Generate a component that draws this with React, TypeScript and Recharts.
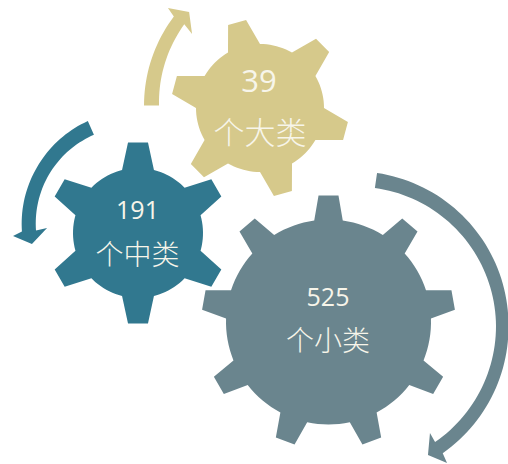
import { PolarAngleAxis, PolarRadiusAxis, Radar, RadarChart } from "recharts";

const WIDTH = 508;
const HEIGHT = 464;
const RADIUS_SCALE = 200; // radii below are in px because the axis spans 0..200

const GOLD = "#D6C98B";
const TEAL = "#31788F";
const SLATE = "#6A858E";

const CATEGORY_COUNTS = ["39", "191", "525"];
const CATEGORY_NAMES = ["个大类", "个中类", "个小类"];

// tooth centres, clockwise from 12 o'clock
const GOLD_TEETH = [45, 105, 165, 225, 285, 345];
const TEAL_TEETH = [0, 60, 120, 180, 240, 300];
const SLATE_TEETH = [0, 40, 80, 120, 160, 200, 240, 280, 320];

// [angle, outer radius, inner radius] along each arrow shaft
const GOLD_SHAFT = [[269.4, 148, 133], [288, 147.5, 133.5], [306.5, 147, 134]];
const TEAL_SHAFT = [[336.1, 111.5, 96.5], [300, 111, 97], [265.6, 111.4, 97.3]];
const SLATE_SHAFT = [[8.2, 154.6, 139.4], [90, 153.5, 141], [145.4, 154.5, 141]];

// [angle, radius]: outer barb, tip, inner barb
const GOLD_HEAD = [[307.7, 156.8], [311.8, 138], [305, 122]];
const TEAL_HEAD = [[263.8, 120.7], [258.3, 103.2], [266.7, 86.1]];
const SLATE_HEAD = [[146.1, 165], [150.5, 148.2], [145, 130.7]];

type Pt = { angle: number; r: number };

// the angle axis is fixed to 0..360, so everything is wrapped into that range
const wrap = (a: number) => ((a % 360) + 360) % 360;

function gearOutline(teeth: number[], rootR: number, tipR: number, baseDeg: number, tipDeg: number) {
  const pts: Pt[] = [];
  teeth.forEach((t, i) => {
    pts.push({ angle: wrap(t - baseDeg), r: rootR });
    pts.push({ angle: wrap(t - tipDeg), r: tipR });
    pts.push({ angle: wrap(t + tipDeg), r: tipR });
    pts.push({ angle: wrap(t + baseDeg), r: rootR });
    const next = i < teeth.length - 1 ? teeth[i + 1] : teeth[0] + 360;
    for (let a = t + baseDeg + 3; a < next - baseDeg; a += 3) {
      pts.push({ angle: wrap(a), r: rootR });
    }
  });
  return pts;
}

// walks the outer edge, then the head, then back along the inner edge
function arrowOutline(shaft: number[][], head: number[][]) {
  const edge = (col: number) => {
    const out: Pt[] = [];
    for (let s = 0; s < shaft.length - 1; s++) {
      const [a0] = shaft[s];
      const [a1] = shaft[s + 1];
      const n = Math.ceil(Math.abs(a1 - a0) / 2);
      for (let k = 0; k < n; k++) {
        const f = k / n;
        out.push({ angle: a0 + (a1 - a0) * f, r: shaft[s][col] + (shaft[s + 1][col] - shaft[s][col]) * f });
      }
    }
    const last = shaft[shaft.length - 1];
    out.push({ angle: last[0], r: last[col] });
    return out;
  };
  return [
    ...edge(1),
    ...head.map(([angle, r]) => ({ angle, r })),
    ...edge(2).reverse(),
  ];
}

function PolarShape({ data, cx, cy, fill }: { data: Pt[]; cx: number; cy: number; fill: string }) {
  return (
    <div style={{ position: "absolute", left: 0, top: 0 }}>
      <RadarChart
        width={WIDTH}
        height={HEIGHT}
        data={data}
        cx={cx}
        cy={cy}
        outerRadius={RADIUS_SCALE}
        margin={{ top: 0, right: 0, bottom: 0, left: 0 }}
      >
        <PolarAngleAxis dataKey="angle" type="number" domain={[0, 360]} tick={false} axisLine={false} />
        <PolarRadiusAxis type="number" domain={[0, RADIUS_SCALE]} tick={false} axisLine={false} />
        <Radar dataKey="r" fill={fill} fillOpacity={1} stroke="none" dot={false} isAnimationActive={false} />
      </RadarChart>
    </div>
  );
}

function Caption({ x, y, size, weight = 400, children }: { x: number; y: number; size: number; weight?: number; children: string }) {
  return (
    <div
      style={{
        position: "absolute",
        left: x - 80,
        top: y - 25,
        width: 160,
        height: 50,
        lineHeight: "50px",
        textAlign: "center",
        fontSize: size,
        color: "#F7F5EA",
        fontWeight: weight,
        fontFamily: '"Open Sans", "Noto Sans CJK SC", sans-serif',
      }}
    >
      {children}
    </div>
  );
}

export default function App() {
  return (
    <div style={{ position: "absolute", left: 0, top: 0, width: WIDTH, height: HEIGHT, overflow: "hidden", background: "#fff" }}>
      <PolarShape data={arrowOutline(GOLD_SHAFT, GOLD_HEAD)} cx={292} cy={104} fill={GOLD} />
      <PolarShape data={arrowOutline(TEAL_SHAFT, TEAL_HEAD)} cx={133} cy={223} fill={TEAL} />
      <PolarShape data={arrowOutline(SLATE_SHAFT, SLATE_HEAD)} cx={355} cy={326} fill={SLATE} />

      <PolarShape data={gearOutline(GOLD_TEETH, 64, 89, 15, 6)} cx={260} cy={108} fill={GOLD} />
      <PolarShape data={gearOutline(TEAL_TEETH, 65, 91, 14.2, 6.3)} cx={138} cy={233} fill={TEAL} />
      <PolarShape data={gearOutline(SLATE_TEETH, 102.5, 127, 8, 4.5)} cx={328.5} cy={322} fill={SLATE} />

      <Caption x={259} y={80} size={31}>{CATEGORY_COUNTS[0]}</Caption>
      <Caption x={260} y={132} size={31} weight={300}>{CATEGORY_NAMES[0]}</Caption>
      <Caption x={137.5} y={209} size={25}>{CATEGORY_COUNTS[1]}</Caption>
      <Caption x={137.5} y={254} size={28} weight={300}>{CATEGORY_NAMES[1]}</Caption>
      <Caption x={328} y={296} size={25}>{CATEGORY_COUNTS[2]}</Caption>
      <Caption x={328} y={340} size={28} weight={300}>{CATEGORY_NAMES[2]}</Caption>
    </div>
  );
}
